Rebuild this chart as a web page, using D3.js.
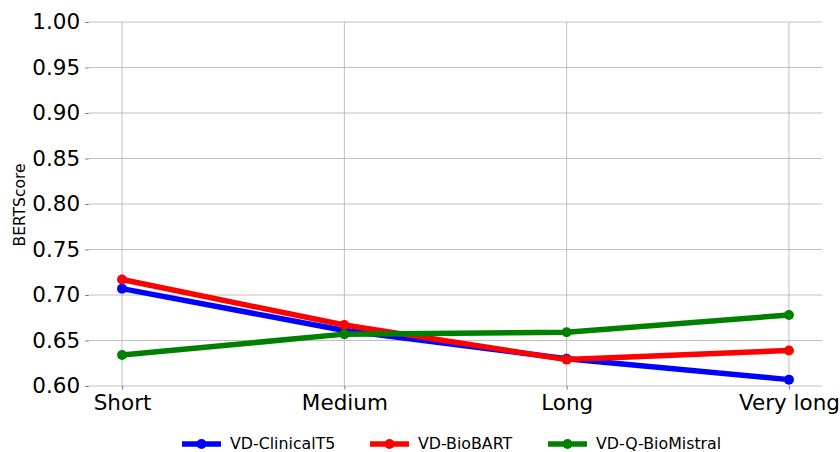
<!DOCTYPE html>
<html><head><meta charset="utf-8">
<script src="https://cdn.jsdelivr.net/npm/d3@7"></script>
<style>body{margin:0;background:#fff}svg{display:block;font-family:"DejaVu Sans",sans-serif}</style>
</head><body><svg id="c" width="840" height="452"></svg>
<script>
const categories = ["Short", "Medium", "Long", "Very long"];
const seriesNames = ["VD-ClinicalT5", "VD-BioBART", "VD-Q-BioMistral"];
const seriesColors = ["#0000ff", "#ff0000", "#008000"];
const clinicalT5 = [0.707, 0.661, 0.630, 0.607];
const bioBART = [0.717, 0.667, 0.629, 0.639];
const qBioMistral = [0.634, 0.657, 0.659, 0.678];
const yTicks = [0.60, 0.65, 0.70, 0.75, 0.80, 0.85, 0.90, 0.95, 1.00];
const yLabel = "BERTScore";

const series = [clinicalT5, bioBART, qBioMistral];
const svg = d3.select("#c");
const L = 88.7, R = 822.3, T = 22, B = 386;
const x = d3.scaleLinear().domain([-0.15, categories.length - 1 + 0.15]).range([L, R]);
const y = d3.scaleLinear().domain([0.6, 1.0]).range([B, T]);

// grid
svg.append("g").selectAll("line").data(yTicks).join("line")
  .attr("x1", L).attr("x2", R).attr("y1", d => y(d)).attr("y2", d => y(d))
  .attr("stroke", "#b0b0b0").attr("stroke-width", 0.8);
svg.append("g").selectAll("line").data(categories).join("line")
  .attr("x1", (d, i) => x(i)).attr("x2", (d, i) => x(i)).attr("y1", T).attr("y2", B)
  .attr("stroke", "#b0b0b0").attr("stroke-width", 0.8);

// axes
const yAxis = d3.axisLeft(y).tickValues(yTicks).tickFormat(d3.format(".2f")).tickSize(3.5).tickPadding(5);
const gy = svg.append("g").attr("transform", `translate(${L},0)`).call(yAxis);
gy.select(".domain").remove();
gy.selectAll(".tick line").attr("stroke", "#555").attr("stroke-width", 0.8);
gy.selectAll("text").attr("font-size", 21.5).attr("fill", "#000").attr("font-family", "DejaVu Sans");

const xAxis = d3.axisBottom(x).tickValues(d3.range(categories.length)).tickFormat(i => categories[i]).tickSize(3.5).tickPadding(5.5);
const gx = svg.append("g").attr("transform", `translate(0,${B})`).call(xAxis);
gx.select(".domain").remove();
gx.selectAll(".tick line").attr("stroke", "#555").attr("stroke-width", 0.8);
gx.selectAll("text").attr("font-size", 21.5).attr("fill", "#000").attr("font-family", "DejaVu Sans");

svg.append("text").attr("transform", `translate(25,205) rotate(-90)`)
  .attr("text-anchor", "middle").attr("font-size", 15.5).text(yLabel);

// lines
const line = d3.line().x((d, i) => x(i)).y(d => y(d));
series.forEach((s, k) => {
  const g = svg.append("g");
  g.append("path").datum(s).attr("d", line).attr("fill", "none")
    .attr("stroke", seriesColors[k]).attr("stroke-width", 5.5).attr("stroke-linejoin", "round").attr("stroke-linecap", "butt");
  g.selectAll("circle").data(s).join("circle")
    .attr("cx", (d, i) => x(i)).attr("cy", d => y(d)).attr("r", 5).attr("fill", seriesColors[k]);
});

// legend
const legX = [182, 370, 548];
const leg = svg.append("g");
seriesNames.forEach((n, k) => {
  const g = leg.append("g").attr("transform", `translate(${legX[k]},444)`);
  g.append("line").attr("x1", 0).attr("x2", 39).attr("stroke", seriesColors[k]).attr("stroke-width", 5.5);
  g.append("circle").attr("cx", 19.5).attr("r", 5).attr("fill", seriesColors[k]);
  g.append("text").attr("x", 48).attr("y", 4.5).attr("font-size", 15.8).text(n);
});
</script></body></html>
